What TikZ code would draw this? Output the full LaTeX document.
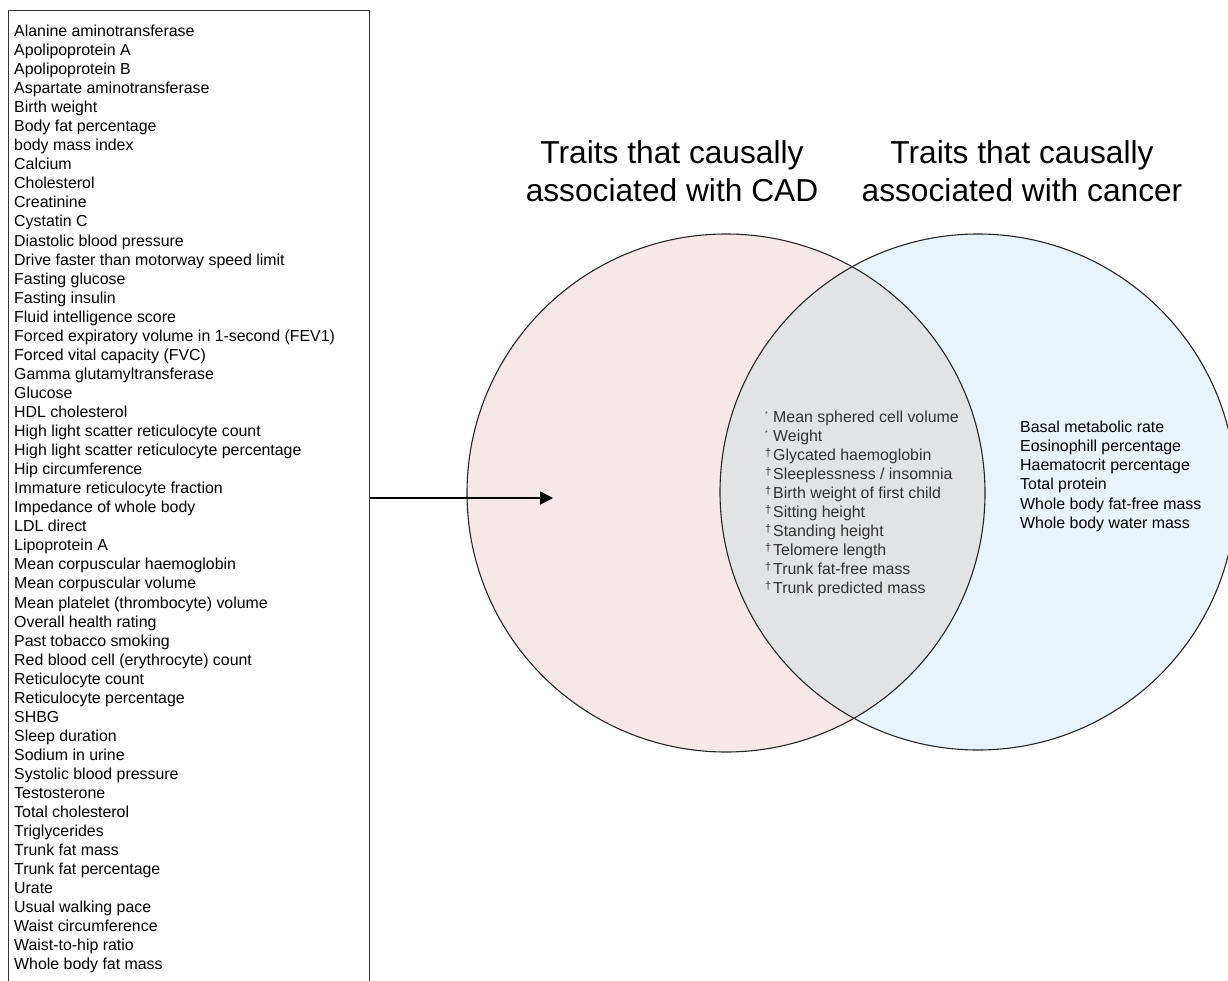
\documentclass[tikz,border=0pt]{standalone}
\usepackage{fontspec}
\setmainfont{Liberation Sans}
\usetikzlibrary{arrows.meta}
\definecolor{cadfill}{RGB}{246,232,232}
\definecolor{cancerfill}{RGB}{232,243,250}
\definecolor{bothfill}{RGB}{226,227,229}
\definecolor{bothtext}{RGB}{50,50,50}
\newcommand{\starmark}{\makebox[8pt][l]{\raisebox{6pt}{\fontsize{7}{7}\selectfont *}}}
\newcommand{\dagmark}{\makebox[8pt][l]{\raisebox{4pt}{\fontsize{11}{11}\selectfont †}}}
\begin{document}
\begin{tikzpicture}[x=1pt, y=-1pt,
  item/.style={anchor=base west, inner sep=0pt, font=\fontsize{15.9}{19}\selectfont},
  title/.style={align=center, inner sep=0pt, font=\fontsize{31.7}{38}\selectfont},
  ring/.style={draw=black!85, line width=1.1pt}]
\useasboundingbox (0,0) rectangle (1228,981);
% list of CAD traits
\node[draw=black!80, line width=1.1pt, minimum width=361pt, minimum height=1000pt, anchor=north west, inner sep=0pt] (traitbox) at (8,10) {};
\foreach \t [count=\i] in {Alanine aminotransferase, Apolipoprotein A, Apolipoprotein B,
  Aspartate aminotransferase, Birth weight, Body fat percentage, body mass index,
  Calcium, Cholesterol, Creatinine, Cystatin C, Diastolic blood pressure,
  Drive faster than motorway speed limit, Fasting glucose, Fasting insulin,
  Fluid intelligence score, Forced expiratory volume in 1-second (FEV1),
  Forced vital capacity (FVC), Gamma glutamyltransferase, Glucose, HDL cholesterol,
  High light scatter reticulocyte count, High light scatter reticulocyte percentage,
  Hip circumference, Immature reticulocyte fraction, Impedance of whole body,
  LDL direct, Lipoprotein A, Mean corpuscular haemoglobin, Mean corpuscular volume,
  Mean platelet (thrombocyte) volume, Overall health rating, Past tobacco smoking,
  Red blood cell (erythrocyte) count, Reticulocyte count, Reticulocyte percentage,
  SHBG, Sleep duration, Sodium in urine, Systolic blood pressure, Testosterone,
  Total cholesterol, Triglycerides, Trunk fat mass, Trunk fat percentage, Urate,
  Usual walking pace, Waist circumference, Waist-to-hip ratio, Whole body fat mass}
  \node[item] (cad\i) at (14, 36.5+19.05*\i-19.05) {\t};
% venn
\coordinate (cad) at (726,493);
\coordinate (cancer) at (978,492);
\fill[cadfill] (cad) circle[radius=259];
\fill[cancerfill] (cancer) circle[radius=258];
\begin{scope}
\clip (cad) circle[radius=259];
\fill[bothfill] (cancer) circle[radius=258];
\end{scope}
\draw[ring] (cad) circle[radius=259];
\draw[ring] (cancer) circle[radius=258];
\node[title] (cadtitle) at (672,171) {Traits that causally\\associated with CAD};
\node[title] (cancertitle) at (1022,171) {Traits that causally\\associated with cancer};
% shared traits
\foreach \m/\t [count=\i] in {\starmark/Mean sphered cell volume, \starmark/Weight,
  \dagmark/Glycated haemoglobin, \dagmark/{Sleeplessness / insomnia},
  \dagmark/Birth weight of first child, \dagmark/Sitting height, \dagmark/Standing height,
  \dagmark/Telomere length, \dagmark/Trunk fat-free mass, \dagmark/Trunk predicted mass}
  \node[item, text=bothtext] (both\i) at (765, 422.3+19*\i-19) {\m\t};
% cancer only traits
\foreach \t [count=\i] in {Basal metabolic rate, Eosinophill percentage,
  Haematocrit percentage, Total protein, Whole body fat-free mass, Whole body water mass}
  \node[item] (can\i) at (1020, 432.3+19.2*\i-19.2) {\t};
\coordinate (tip) at (553,498);
\draw[line width=1.6pt, -{Triangle[length=13pt, width=13pt]}] (traitbox.east |- tip) -- (tip);
\end{tikzpicture}
\end{document}
